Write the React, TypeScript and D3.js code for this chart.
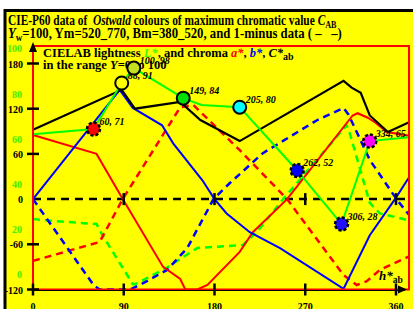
import React from 'react';
import * as d3 from 'd3';

// hue angle ticks and value ticks
const hueTicks = [0, 90, 180, 270, 360];
const valueTicks = [-120, -60, 0, 60, 120, 180];
const lightTicks = [0, 20, 40, 60, 80, 100];

// [hue, value] — solid: colour data, dashed: 1-minus data
const cStar: [number, number][] = [[0, 92], [88, 145], [101, 120], [146, 129], [166, 105], [205, 77], [308, 157], [316, 148], [325, 141], [334, 111], [352, 89], [373, 102]];
const aStar: [number, number][] = [[0, 85], [63, 60], [89, 0], [129, -90], [146, -106], [151, -120], [163, -120], [173, -114], [205, -70], [218, -44], [252, 0], [317, 111], [322, 114], [332, 108], [339, 102], [351, 89], [373, 84]];
const bStar: [number, number][] = [[0, 0], [86, 145], [99, 121], [128, 98], [139, 74], [168, 25], [180, 0], [192, -19], [215, -44], [245, -65], [308, -119], [334, -48], [359, 0], [373, 29]];
const lStar: [number, number][] = [[0, 62], [60, 64.3], [88, 84.7], [100, 91.3], [149, 78], [167, 75], [205, 74], [262, 46], [306, 22.3], [334, 59], [373, 60.7]];
const aMinus: [number, number][] = [[0, -82], [66, -57], [89, 0], [146, 122], [159, 125], [205, 65], [252, 0], [308, -101], [321, -114], [331, -109], [344, -94], [373, -76]];
const bMinus: [number, number][] = [[0, 0], [60, -114], [66, -120], [96, -120], [106, -114], [133, -94], [153, -65], [179, 0], [195, 21], [228, 61], [282, 105], [308, 121], [313, 112], [334, 52], [361, -1], [373, -21]];
const lMinus: [number, number][] = [[0, 24.5], [20, 23.7], [63, 22.3], [68, 18], [99, -4.3], [101, -4.3], [129, 2], [163, 11.7], [208, 13], [222, 18.7], [248, 33.3], [311, 66], [314, 62.7], [334, 31.7], [344, 27], [372, 24]];
const zeroLine: [number, number][] = [[0, 0], [373, 0]];

// Ostwald colour samples: hue, L*, C*ab, fill, dashed ring
const samples = [
  { hue: 60, L: 64.3, C: 71, fill: '#ff0000', dashed: true },
  { hue: 88, L: 84.7, C: 91, fill: '#ffff00', dashed: false },
  { hue: 100, L: 91.3, C: 98, fill: '#c4e020', dashed: false },
  { hue: 149, L: 78, C: 84, fill: '#00e000', dashed: false },
  { hue: 205, L: 74, C: 80, fill: '#00ffff', dashed: false },
  { hue: 262, L: 46, C: 52, fill: '#0000ff', dashed: true },
  { hue: 306, L: 22.3, C: 28, fill: '#2010ff', dashed: true },
  { hue: 334, L: 59, C: 65, fill: '#ff00ff', dashed: true },
];

const W = 413;
const H = 309;
const font = '"Liberation Serif", "Times New Roman", serif';

export default function App() {
  const x = d3.scaleLinear().domain([0, 360]).range([33, 396]);
  const y = d3.scaleLinear().domain([-120, 180]).range([289.5, 63.5]);
  const yL = d3.scaleLinear().domain([0, 100]).range([y(-100), y(200)]);

  const line = d3.line<[number, number]>().x(d => x(d[0])).y(d => y(d[1]));
  const lineL = d3.line<[number, number]>().x(d => x(d[0])).y(d => yL(d[1]));

  const left = x(0);
  const right = 409;
  const top = 46;
  const bottom = y(-120);

  return (
    <svg width={W} height={H} style={{ position: 'absolute', left: 0, top: 0, display: 'block' }} fontFamily={font}>
      <rect x={0} y={0} width={W} height={H} fill="#ffffff" />
      <rect x={5} y={10.5} width={W + 10} height={H + 10} fill="#ffff00" stroke="#000" strokeWidth={3} />

      {/* title */}
      <g transform="translate(8,0) scale(0.815,1)">
        <text x={0} y={25} fontSize={14} fontWeight="bold" xmlSpace="preserve">
          CIE-P60 data of <tspan fontStyle="italic"> Ostwald</tspan> colours of maximum chromatic value <tspan fontStyle="italic">C</tspan>
          <tspan fontSize={10} dy={3}>AB</tspan>
        </text>
      </g>
      <g transform="translate(8,0) scale(0.91,1)">
        <text x={0} y={38} fontSize={14} fontWeight="bold" xmlSpace="preserve">
          <tspan fontStyle="italic">Y</tspan><tspan fontSize={10} dy={3}>w</tspan><tspan dy={-3}>=100, Ym=520_770, Bm=380_520, and 1-minus data ( {'\u2013'}   {'\u2013'})</tspan>
        </text>
      </g>

      {/* legend text */}
      <text x={43} y={57} fontSize={12.5} fontWeight="bold" xmlSpace="preserve">
        CIELAB lightness <tspan fill="#40ff00" fontStyle="italic">L*</tspan>, and chroma <tspan fill="#ff0000" fontStyle="italic">a*</tspan>, <tspan fill="#0000ff" fontStyle="italic">b*</tspan>, <tspan fontStyle="italic">C*</tspan><tspan fontSize={10} dy={3}>ab</tspan>
      </text>
      <text x={43} y={69} fontSize={12.5} fontWeight="bold" xmlSpace="preserve">
        in the range <tspan fontStyle="italic">Y</tspan>=0 to 100
      </text>

      {/* y axis labels */}
      {valueTicks.map(v => (
        <text key={'v' + v} x={23} y={y(v) + 4} fontSize={10} fontWeight="bold" textAnchor="end">{v}</text>
      ))}
      {lightTicks.map(l => (
        <text key={'l' + l} x={22} y={yL(l) + 4} fontSize={10} fontWeight="bold" textAnchor="end" fill="#40f000">{l}</text>
      ))}

      {/* x axis labels */}
      {hueTicks.map(h => (
        <text key={'h' + h} x={x(h)} y={310} fontSize={10} fontWeight="bold" textAnchor="middle">{h}</text>
      ))}
      <text x={379} y={280} fontSize={13} fontWeight="bold" fontStyle="italic">
        h*<tspan fontSize={9.5} fontStyle="normal" dy={3}>ab</tspan>
      </text>

      {/* data lines */}
      <path d={line(zeroLine) ?? ''} fill="none" stroke="#000" strokeWidth={2.5} strokeDasharray="8,6" />
      <path d={lineL(lMinus) ?? ''} fill="none" stroke="#00ff00" strokeWidth={2.5} strokeDasharray="7,5" />
      <path d={line(aMinus) ?? ''} fill="none" stroke="#ff0000" strokeWidth={2.5} strokeDasharray="7,5" />
      <path d={line(bMinus) ?? ''} fill="none" stroke="#0000ff" strokeWidth={2.5} strokeDasharray="7,5" />
      <path d={line(aStar) ?? ''} fill="none" stroke="#ff0000" strokeWidth={2} />
      <path d={line(bStar) ?? ''} fill="none" stroke="#0000ff" strokeWidth={2} />
      <path d={line(cStar) ?? ''} fill="none" stroke="#000" strokeWidth={2.2} />
      <path d={lineL(lStar) ?? ''} fill="none" stroke="#00ff00" strokeWidth={2} />

      {/* frame */}
      <rect x={left} y={top} width={right - left} height={bottom - top} fill="none" stroke="#ff0000" strokeWidth={2} />
      <line x1={left} y1={bottom + 1} x2={right - 4} y2={bottom + 1} stroke="#000" strokeWidth={1} />
      <path d={`M${right - 11},${bottom - 4} L${right - 2},${bottom} L${right - 11},${bottom + 4} Z`} fill="#000" />
      <path d={`M${left - 4},${top + 6} L${left},${top - 4} L${left + 4},${top + 6} Z`} fill="#000" />
      <line x1={left} y1={top + 4} x2={left} y2={top - 2} stroke="#000" strokeWidth={1.5} />

      {/* ticks */}
      {valueTicks.filter(v => v !== 0).map(v => (
        <line key={'tv' + v} x1={left - 6} x2={left + 6} y1={y(v)} y2={y(v)} stroke="#000" strokeWidth={2.5} />
      ))}
      {hueTicks.map(h => (
        <g key={'th' + h}>
          <line x1={x(h)} x2={x(h)} y1={bottom - 6} y2={bottom + 6} stroke="#000" strokeWidth={2.5} />
          {h > 0 && <line x1={x(h)} x2={x(h)} y1={y(0) - 6} y2={y(0) + 6} stroke="#000" strokeWidth={2.5} />}
        </g>
      ))}

      {/* samples */}
      {samples.map(s => (
        <text key={'t' + s.hue} x={x(s.hue) + 6} y={yL(s.L) - 4} fontSize={10} fontWeight="bold" fontStyle="italic">{s.hue}, {s.C}</text>
      ))}
      {samples.map(s => (
        <circle key={'c' + s.hue} cx={x(s.hue)} cy={yL(s.L)} r={6.5} fill={s.fill} stroke="#000" strokeWidth={s.dashed ? 2.5 : 2} strokeDasharray={s.dashed ? '3,2' : undefined} />
      ))}
    </svg>
  );
}
